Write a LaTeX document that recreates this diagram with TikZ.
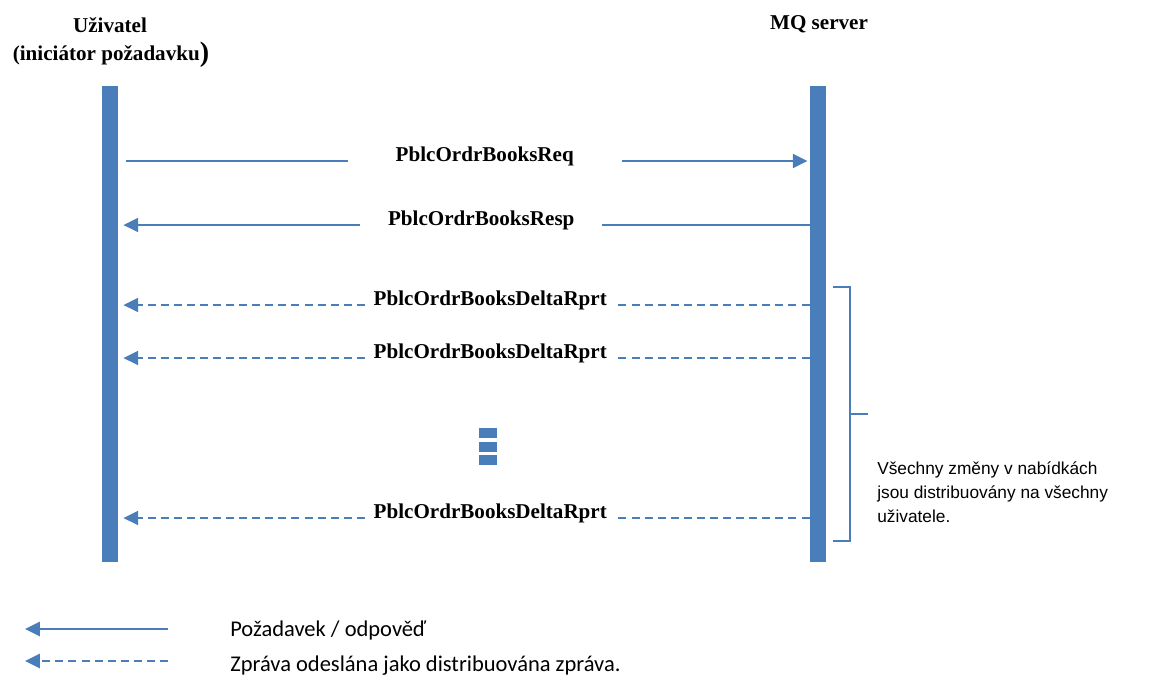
\documentclass[tikz,border=0pt]{standalone}
\usepackage{fontspec}
\setmainfont{Liberation Serif}
\newfontfamily\notefont{Liberation Sans}
\newfontfamily\legendfont{Carlito}
\usetikzlibrary{arrows.meta}
\definecolor{mqblue}{RGB}{74,126,187}

\tikzset{
  head/.style={font=\fontsize{15}{17}\selectfont\bfseries,inner sep=0pt},
  lifebar/.style={fill=mqblue,minimum width=0.41cm,minimum height=11.9cm,inner sep=0pt},
  msgtext/.style={font=\fontsize{15}{17}\selectfont\bfseries,fill=white,anchor=base,
    inner xsep=0pt,inner ysep=1pt,text depth=4pt},
  reqmsg/.style={draw=mqblue,line width=1.4pt,-{Triangle[length=10.5pt,width=10pt]}},
  distmsg/.style={reqmsg,dash pattern=on 5.7pt off 3.6pt},
  dotbox/.style={fill=mqblue},
  bracketline/.style={draw=mqblue,line width=1.1pt},
}

\begin{document}
\begin{tikzpicture}[x=0.025cm,y=-0.025cm]
\useasboundingbox (0,0) rectangle (1170,679);

\node[head] (user) at (110,25) {Uživatel};
\node[head] (userrole) at (111,55) {(iniciátor požadavku\raisebox{-1pt}{\fontsize{20}{20}\selectfont)}};
\node[head] (mq) at (819,24) {MQ server};

\node[lifebar] (userline) at (110,324) {};
\node[lifebar] (mqline) at (818,324) {};

\coordinate (r1) at (0,161);
\coordinate (r2) at (0,225);
\coordinate (r3) at (0,305);
\coordinate (r4) at (0,358);
\coordinate (r5) at (0,518);

\draw[reqmsg,shorten <=5pt,shorten >=1.4pt] (userline.east |- r1) -- node[msgtext,pos=0.530,minimum width=6.85cm] (req) {PblcOrdrBooksReq} (mqline.west |- r1);
\draw[reqmsg,shorten >=3.5pt] (mqline.west |- r2) -- node[msgtext,pos=0.475,minimum width=6.05cm] (resp) {PblcOrdrBooksResp} (userline.east |- r2);
\draw[distmsg,shorten >=3.5pt] (mqline.west |- r3) -- node[msgtext,pos=0.462,minimum width=6.15cm] (delta1) {PblcOrdrBooksDeltaRprt} (userline.east |- r3);
\draw[distmsg,shorten >=3.5pt] (mqline.west |- r4) -- node[msgtext,pos=0.462,minimum width=6.15cm] (delta2) {PblcOrdrBooksDeltaRprt} (userline.east |- r4);
\draw[distmsg,shorten >=3.5pt] (mqline.west |- r5) -- node[msgtext,pos=0.462,minimum width=6.15cm] (delta3) {PblcOrdrBooksDeltaRprt} (userline.east |- r5);

\fill[dotbox] (479,428) rectangle (497,438);
\fill[dotbox] (479,442) rectangle (497,452);
\fill[dotbox] (479,455) rectangle (497,465);

\draw[bracketline] (833,287) -| (850,541) -- (833,541);
\draw[bracketline] (850,414) -- (868,414);
\node[anchor=west,align=left,inner sep=0pt,font=\notefont\fontsize{12.3}{17.1}\selectfont] (note) at (877,492)
  {Všechny změny v nabídkách\\jsou distribuovány na všechny\\uživatele.};

\coordinate (legA) at (168,629);
\coordinate (legB) at (25,629);
\coordinate (legC) at (168,661);
\coordinate (legD) at (25,661);
\draw[reqmsg] (legA) -- (legB);
\draw[distmsg] (legC) -- (legD);
\node[anchor=base west,inner sep=0pt,font=\legendfont\fontsize{16}{19}\selectfont] (legreq) at (230,636) {Požadavek / odpověď};
\node[anchor=base west,inner sep=0pt,font=\legendfont\fontsize{16}{19}\selectfont] (legdist) at (230,671) {Zpráva odeslána jako distribuována zpráva.};
\end{tikzpicture}
\end{document}
